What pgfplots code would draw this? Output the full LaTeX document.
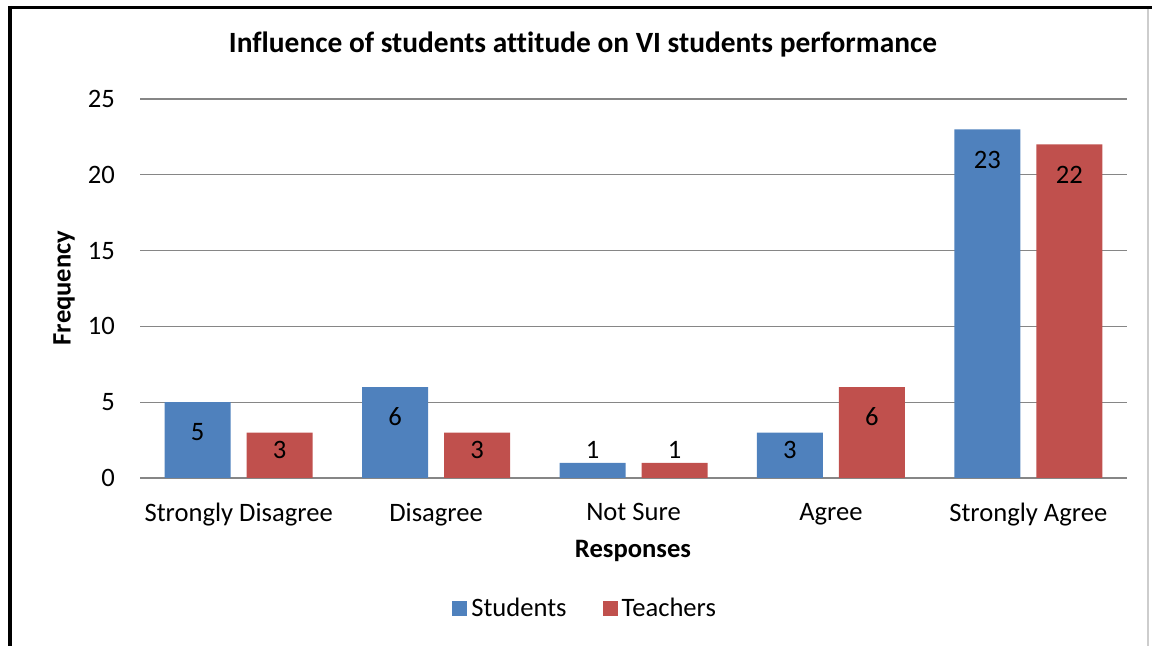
\documentclass[border=0pt]{standalone}
\usepackage{fontspec}
\setmainfont{Carlito}[Ligatures=NoCommon]
\usepackage{pgfplots}
\pgfplotsset{compat=1.18}
\definecolor{sblue}{RGB}{79,129,189}
\definecolor{tred}{RGB}{192,80,77}
\definecolor{gridgray}{RGB}{134,134,134}
\newcommand{\tfont}{\fontsize{13.3}{16}\selectfont}
\begin{document}
\begin{tikzpicture}[x=1pt,y=1pt]
\useasboundingbox (0,0) rectangle (576,323);
\begin{axis}[
  at={(70pt,84pt)}, anchor=south west, scale only axis,
  width=493.5pt, height=189.5pt,
  ybar, bar width=33pt,
  xmin=-0.5, xmax=4.5, ymin=0, ymax=25,
  ytick={0,5,10,15,20,25},
  xtick={0,1,2,3,4},
  xticklabels={Strongly Disagree, Disagree, Not Sure, Agree, Strongly Agree},
  ymajorgrids, grid style={gridgray, line width=0.6pt},
  axis x line*=bottom, axis y line*=left,
  x axis line style={gridgray, line width=0.6pt, -},
  y axis line style={draw=none},
  major tick length=0pt,
  tick label style={font=\tfont},
  /pgf/number format/assume math mode=true,
  yticklabel style={xshift=-9pt},
  xticklabel style={yshift=-9pt},
  legend style={at={(0.452,-0.3456)}, anchor=center, draw=none, font=\tfont,
    legend columns=2, /tikz/every even column/.append style={column sep=16pt}},
  legend image code/.code={\fill[#1] (0pt,-3.75pt) rectangle (7.5pt,3.75pt);},
]
\addplot[fill=sblue, draw=none, bar shift=-20.5pt] coordinates {(0,5) (1,6) (2,1) (3,3) (4,23)};
\addlegendentry{Students}
\addplot[fill=tred, draw=none, bar shift=20.5pt] coordinates {(0,3) (1,3) (2,1) (3,6) (4,22)};
\addlegendentry{Teachers}
\addplot[draw=none, fill=none, bar shift=-20.5pt, forget plot, nodes near coords,
  point meta=explicit symbolic,
  every node near coord/.append style={anchor=center, font=\tfont, text=black}]
  coordinates {(0,3.02)[5] (1,4.02)[6] (2,1.86)[1] (3,1.85)[3] (4,21.0)[23]};
\addplot[draw=none, fill=none, bar shift=20.5pt, forget plot, nodes near coords,
  point meta=explicit symbolic,
  every node near coord/.append style={anchor=center, font=\tfont, text=black}]
  coordinates {(0,1.85)[3] (1,1.85)[3] (2,1.86)[1] (3,4.02)[6] (4,20.02)[22]};
\end{axis}
\node[font=\fontsize{14.7}{17}\selectfont\bfseries] at (291.5,300.5) {Influence of students attitude on VI students performance};
\node[font=\fontsize{13.3}{16}\selectfont\bfseries, rotate=90] at (32,179) {Frequency};
\node[font=\fontsize{13.3}{16}\selectfont\bfseries] at (316.5,47.5) {Responses};
\draw[line width=1.5pt] (4,319.25) -- (576,319.25);
\draw[line width=2pt] (5,320) -- (5,0);
\draw[color={rgb,255:red,205;green,205;blue,205}, line width=0.6pt] (574,318.5) -- (574,0);
\end{tikzpicture}
\end{document}
